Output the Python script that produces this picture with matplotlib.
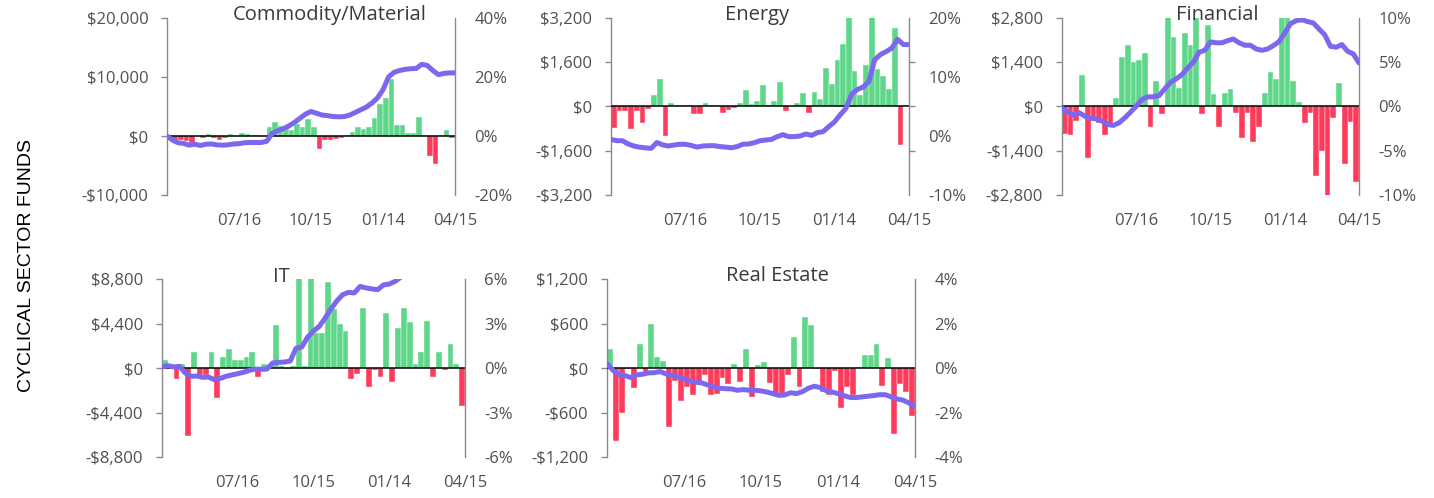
import matplotlib
matplotlib.use('Agg')
import matplotlib.pyplot as plt
import matplotlib.dates as mdates
import numpy as np
import pandas as pd

plt.rcParams['font.family'] = ['Open Sans', 'DejaVu Sans']

W, H = 1434, 498

# ---------------- data ----------------
dates = pd.date_range('2021-04-16', periods=53, freq='7D')
tick_dates = pd.to_datetime(['2021-07-16', '2021-10-15', '2022-01-14', '2022-04-15'])
tick_labels = ['07/16', '10/15', '01/14', '04/15']

commodity_flows = [-600, -900, -700, -900, -1200, 0, -400, 300, -400, -600, -400, 300, 0, 500, 300, 100,
                   100, 0, 1500, 2300, 1700, 1300, 1000, 2000, 1500, 2800, 1600, -2200, -600, -700, -500,
                   -400, 200, 700, 1600, 1200, 1600, 3000, 5500, 6400, 9700, 1800, 1800, 500, 500, 3200,
                   100, -3400, -4800, 200, 1100, -400]
commodity_cum = [0, -1.4, -2.3, -2.5, -3.1, -2.8, -3.2, -2.8, -2.7, -3.0, -3.1, -3.0, -2.7, -2.6, -2.3,
                 -2.2, -2.2, -2.2, -1.8, 0.9, 1.8, 2.5, 3.4, 4.6, 6.0, 7.4, 8.3, 7.7, 7.1, 6.9, 6.6, 6.5,
                 6.6, 7.1, 8.0, 8.9, 9.8, 11.2, 12.9, 15.7, 20.0, 21.6, 22.2, 22.6, 22.8, 22.9, 24.3, 23.9,
                 22.2, 20.8, 21.2, 21.4, 21.4]

energy_flows = [-760, -180, -160, -830, -160, -580, -80, 430, 1010, -1050, 140, 50, 50, 50, -280, -280,
                140, 50, 50, -220, -140, -50, 140, 580, 100, 200, 770, 50, 190, 870, -170, 20, 140, 480,
                -220, 530, 270, 1400, 820, 1690, 2270, 3400, 1270, 410, 1500, 3600, 1350, 1110, 650,
                2840, -1410, 60]
energy_cum = [-0.57, -0.8, -0.8, -1.36, -1.7, -1.9, -2.0, -2.1, -1.1, -1.5, -1.7, -1.53, -1.4, -1.4,
              -1.6, -1.87, -1.7, -1.64, -1.64, -1.8, -1.87, -2.0, -1.8, -1.4, -1.36, -1.13, -0.8, -0.68,
              -0.57, -0.11, 0.23, -0.11, -0.11, 0, 0.34, 0.11, 0.57, 0.74, 1.6, 2.4, 3.6, 4.7, 7.1, 7.9,
              8.3, 9.2, 12.9, 13.8, 14.3, 14.9, 16.4, 15.5, 15.5]

financial_flows = [-880, -900, -460, 1010, -1640, -460, -520, -900, -620, 260, 1560, 1940, 1410, 1470,
                   1690, -650, 820, -240, 2900, 2190, 600, 2330, 1940, 3000, -240, 2570, 380, -650, 430,
                   560, -200, -990, -200, -1120, -650, 420, 1100, 880, 3200, 3000, 820, 130, -520, -200,
                   -2200, -1410, -3000, -360, 730, -1810, -490, -2380]
financial_cum = [-0.15, -0.64, -0.94, -0.71, -1.09, -1.32, -1.39, -1.65, -2.03, -2.14, -1.84, -1.28,
                 -0.64, 0.04, 0.79, 1.09, 1.09, 1.24, 2.0, 2.74, 3.12, 3.6, 4.36, 5.0, 6.13, 6.35, 7.3,
                 7.2, 7.2, 7.44, 7.63, 7.2, 6.92, 6.92, 6.5, 6.35, 6.5, 6.88, 7.33, 8.3, 9.36, 9.7, 9.8,
                 9.6, 9.44, 8.76, 8.1, 6.8, 6.7, 7.0, 6.24, 5.94, 4.92]

it_flows = [820, 430, -1090, 430, -6760, 1620, -660, -660, 1620, -2970, 1090, 1850, 820, 820, 1090, 1620,
            -890, 430, 160, 4250, 230, -100, 230, 9500, 160, 9500, 3460, 3460, 8540, 5830, 4350, 3630,
            -1090, -560, 5900, -1880, -160, -890, 5400, -1420, 3960, 5900, 4520, 430, 1620, 4620, -890,
            1620, -230, 2380, 430, -3790]
it_cum = [0.07, 0.16, 0.07, 0.11, -0.34, -0.56, -0.54, -0.63, -0.61, -0.79, -0.70, -0.56, -0.47, -0.38,
          -0.29, -0.16, -0.07, -0.09, -0.07, 0.34, 0.38, 0.40, 0.47, 1.33, 1.42, 2.09, 2.49, 2.81, 3.37,
          3.98, 4.52, 4.94, 5.1, 5.06, 5.5, 5.4, 5.33, 5.28, 5.6, 5.66, 5.84, 6.13, 6.4, 6.6, 6.9, 7.1,
          7.0, 7.3, 7.5, 7.4, 7.6, 7.8, 7.7]

re_flows = [250, -990, -600, -20, -270, 330, -60, 600, 150, 100, -800, -170, -450, -250, -360, -170,
            -100, -360, -350, -140, -220, 60, -190, 260, -390, 40, 80, -200, -380, -370, -90, 420, -250,
            690, 580, -10, -330, -360, -40, -540, -260, -370, 20, 170, 170, 330, -240, 130, -890, -210,
            -330, -650]
re_cum = [0.19, -0.10, -0.30, -0.34, -0.43, -0.31, -0.28, -0.22, -0.21, -0.16, -0.27, -0.34, -0.40,
          -0.49, -0.58, -0.64, -0.67, -0.76, -0.85, -0.91, -0.93, -0.94, -1.0, -0.97, -1.0, -1.0, -1.03,
          -1.08, -1.15, -1.23, -1.21, -1.11, -1.15, -1.06, -0.91, -0.82, -0.88, -1.02, -1.08, -1.15,
          -1.24, -1.32, -1.33, -1.30, -1.27, -1.24, -1.20, -1.20, -1.30, -1.39, -1.45, -1.57, -1.72]

titles = ['Commodity/Material', 'Energy', 'Financial', 'IT', 'Real Estate']
flow_ticks = [[-10000, 0, 10000, 20000],
              [-3200, -1600, 0, 1600, 3200],
              [-2800, -1400, 0, 1400, 2800],
              [-8800, -4400, 0, 4400, 8800],
              [-1200, -600, 0, 600, 1200]]
pct_limits = [(-20, 40), (-10, 20), (-10, 10), (-6, 6), (-4, 4)]
pct_ticks = [[-20, 0, 20, 40], [-10, 0, 10, 20], [-10, -5, 0, 5, 10], [-6, -3, 0, 3, 6], [-4, -2, 0, 2, 4]]

# ---------------- style ----------------
GREEN = '#5fd68a'
RED = '#ff3a5a'
PURPLE = '#7b68ee'
SPINE = '#8a8a8a'
LABEL = '#505050'
TITLE = '#3a3a3a'
TICK_FS = 12

# pixel boxes (left, top, right, bottom) and title anchors
boxes = [(167, 18, 455, 195), (611, 18, 909, 195), (1062, 18, 1359, 195),
         (162, 279, 465, 457), (607, 279, 915, 457)]
title_pos = [(330, 20), (757, 20), (1217, 20), (281, 282), (777, 281)]

xnum = mdates.date2num(dates.to_pydatetime())
xticks_num = mdates.date2num(tick_dates.to_pydatetime())


def money(v):
    return ('-$' if v < 0 else '$') + f'{abs(v):,.0f}'


fig = plt.figure(figsize=(W / 100, H / 100), dpi=100)

series = [(commodity_flows, commodity_cum), (energy_flows, energy_cum),
          (financial_flows, financial_cum), (it_flows, it_cum), (re_flows, re_cum)]

for k, ((flows, cum), box) in enumerate(zip(series, boxes)):
    l, t, r, b = box
    ax = fig.add_axes([l / W, 1 - b / H, (r - l) / W, (b - t) / H])
    cols = [GREEN if v >= 0 else RED for v in flows]
    ax.bar(xnum[1:], flows, width=-7, align='edge', color=cols, edgecolor='#f4fff8', linewidth=0.3)
    ax.axhline(0, color='black', lw=1.1, zorder=3)
    lt = flow_ticks[k]
    ax.set_ylim(lt[0], lt[-1])
    ax.set_yticks(lt, [money(v) for v in lt])
    ax.set_xlim(xnum[0], xnum[-1])
    ax.set_xticks(xticks_num, tick_labels)
    for s in ['top', 'right', 'bottom']:
        ax.spines[s].set_visible(False)
    ax.spines['left'].set_color(SPINE)
    ax.spines['left'].set_linewidth(1.0)
    ax.tick_params(axis='y', direction='out', length=4.5, width=1.0, color=SPINE,
                   labelcolor=LABEL, labelsize=TICK_FS, pad=9)
    ax.tick_params(axis='x', length=0, labelcolor=LABEL, labelsize=TICK_FS, pad=13)

    ax2 = ax.twinx()
    ax2.plot(xnum, cum, color=PURPLE, lw=3.6, solid_joinstyle='round', solid_capstyle='round')
    lo, hi = pct_limits[k]
    ax2.set_ylim(lo, hi)
    pt = pct_ticks[k]
    ax2.set_yticks(pt, [f'{v:g}%' for v in pt])
    ax2.set_yticks(np.linspace(lo, hi, len(lt)), minor=True)
    for s in ['top', 'left', 'bottom']:
        ax2.spines[s].set_visible(False)
    ax2.spines['right'].set_color(SPINE)
    ax2.spines['right'].set_linewidth(1.0)
    ax2.tick_params(axis='y', which='major', length=0, labelcolor=LABEL, labelsize=TICK_FS, pad=14)
    ax2.tick_params(axis='y', which='minor', direction='out', length=4.5, width=1.0, color=SPINE)

    tx, ty = title_pos[k]
    fig.text(tx / W, 1 - ty / H, titles[k], ha='center', va='baseline', fontsize=14.5, color=TITLE)

fig.text(27 / W, 1 - 266 / H, 'CYCLICAL SECTOR FUNDS', rotation=90, ha='center', va='center',
         fontsize=14, color='black', family=['Liberation Sans', 'DejaVu Sans'])

fig.savefig('out.png', dpi=100)
